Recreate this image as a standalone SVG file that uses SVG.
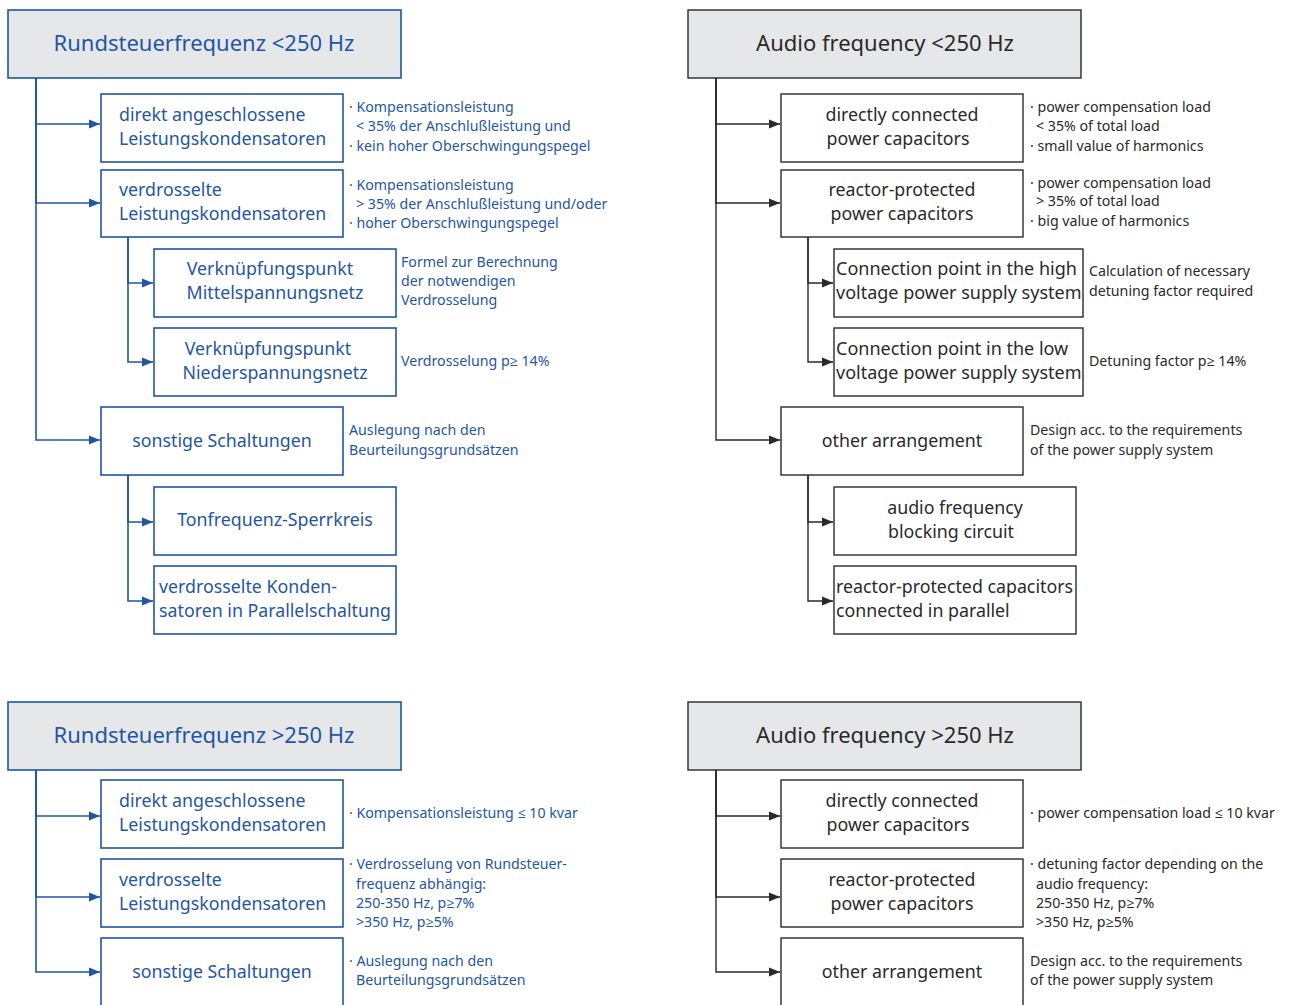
<svg xmlns="http://www.w3.org/2000/svg" width="1300" height="1005" viewBox="0 0 1300 1005">
<style>
text{font-family:"Noto Sans","Open Sans","DejaVu Sans",sans-serif;dominant-baseline:central}
.b rect{fill:#fff;stroke:#1f56a6;stroke-width:1.6}
.b rect.h{fill:#e6e7e9}
.k rect{fill:#fff;stroke:#2a2a2a;stroke-width:1.4}
.k rect.h{fill:#e6e7e9}
.b text{fill:#1f56a6}
.k text{fill:#2a2a2a}
.ht{font-size:22px;text-anchor:middle}
.t{font-size:17.8px}
.tc{font-size:17.8px;text-anchor:middle}
.t2{font-size:18px}
.a{font-size:14.2px}
.cb{fill:none;stroke:#1f56a6;stroke-width:1.6}
.ck{fill:none;stroke:#2a2a2a;stroke-width:1.4}
</style>
<defs>
<marker id="mb" markerUnits="userSpaceOnUse" markerWidth="12" markerHeight="10" refX="11" refY="5" orient="auto"><path d="M0,0.5 L11,5 L0,9.5 z" fill="#1f56a6"/></marker>
<marker id="mk" markerUnits="userSpaceOnUse" markerWidth="12" markerHeight="10" refX="11" refY="5" orient="auto"><path d="M0,0.5 L11,5 L0,9.5 z" fill="#2a2a2a"/></marker>
</defs>

<g id="connectors">
<g class="cb" marker-end="url(#mb)">
<path d="M36 78 V124 H100"/>
<path d="M36 78 V203 H100"/>
<path d="M36 78 V440 H100"/>
<path d="M128 237 V283 H153"/>
<path d="M128 237 V362 H153"/>
<path d="M128 475 V522 H153"/>
<path d="M128 475 V601 H153"/>
<path d="M36 770 V816 H100"/>
<path d="M36 770 V897 H100"/>
<path d="M36 770 V972 H100"/>
</g>
<g class="ck" marker-end="url(#mk)">
<path d="M716 78 V124 H780"/>
<path d="M716 78 V203 H780"/>
<path d="M716 78 V440 H780"/>
<path d="M808 237 V283 H833"/>
<path d="M808 237 V362 H833"/>
<path d="M808 475 V522 H833"/>
<path d="M808 475 V601 H833"/>
<path d="M716 770 V816 H780"/>
<path d="M716 770 V897 H780"/>
<path d="M716 770 V972 H780"/>
</g>
</g>

<!-- Top-left (German, <250 Hz) -->
<g class="b">
<g id="de1-head"><rect class="h" x="8" y="10" width="393" height="68"/><text class="ht" x="204" y="42">Rundsteuerfrequenz &lt;250 Hz</text></g>
<g id="de1-direkt"><rect x="101" y="94" width="242" height="68"/><text class="t" x="119" y="114">direkt angeschlossene</text><text class="t" x="119" y="138">Leistungskondensatoren</text>
<text class="a" x="349" y="106">· Kompensationsleistung</text><text class="a" x="356" y="125">&lt; 35% der Anschlußleistung und</text><text class="a" x="349" y="145">· kein hoher Oberschwingungspegel</text></g>
<g id="de1-verdr"><rect x="101" y="170" width="242" height="67"/><text class="t" x="119" y="189">verdrosselte</text><text class="t" x="119" y="213">Leistungskondensatoren</text>
<text class="a" x="349" y="184">· Kompensationsleistung</text><text class="a" x="356" y="203">&gt; 35% der Anschlußleistung und/oder</text><text class="a" x="349" y="222">· hoher Oberschwingungspegel</text></g>
<g id="de1-mittel"><rect x="154" y="249" width="242" height="68"/><text class="tc" x="270" y="268">Verknüpfungspunkt</text><text class="tc" x="275" y="292">Mittelspannungsnetz</text>
<text class="a" x="401" y="261">Formel zur Berechnung</text><text class="a" x="401" y="280">der notwendigen</text><text class="a" x="401" y="299">Verdrosselung</text></g>
<g id="de1-nieder"><rect x="154" y="328" width="242" height="68"/><text class="tc" x="268" y="348">Verknüpfungspunkt</text><text class="tc" x="275" y="372">Niederspannungsnetz</text>
<text class="a" x="401" y="360">Verdrosselung p≥ 14%</text></g>
<g id="de1-sonst"><rect x="101" y="407" width="242" height="68"/><text class="tc" x="222" y="440">sonstige Schaltungen</text>
<text class="a" x="349" y="429">Auslegung nach den</text><text class="a" x="349" y="449">Beurteilungsgrundsätzen</text></g>
<g id="de1-ton"><rect x="154" y="487" width="242" height="68"/><text class="tc" x="275" y="519">Tonfrequenz-Sperrkreis</text></g>
<g id="de1-par"><rect x="154" y="566" width="242" height="68"/><text class="t" x="159" y="586">verdrosselte Konden-</text><text class="t" x="159" y="610">satoren in Parallelschaltung</text></g>
</g>

<!-- Top-right (English, <250 Hz) -->
<g class="k">
<g id="en1-head"><rect class="h" x="688" y="10" width="393" height="68"/><text class="ht" x="885" y="42">Audio frequency &lt;250 Hz</text></g>
<g id="en1-direct"><rect x="781" y="94" width="242" height="68"/><text class="tc" x="902" y="114">directly connected</text><text class="tc" x="898" y="138">power capacitors</text>
<text class="a" x="1030" y="106">· power compensation load</text><text class="a" x="1036" y="125">&lt; 35% of total load</text><text class="a" x="1030" y="145">· small value of harmonics</text></g>
<g id="en1-reactor"><rect x="781" y="170" width="242" height="67"/><text class="tc" x="902" y="189">reactor-protected</text><text class="tc" x="902" y="213">power capacitors</text>
<text class="a" x="1030" y="182">· power compensation load</text><text class="a" x="1036" y="200">&gt; 35% of total load</text><text class="a" x="1030" y="220">· big value of harmonics</text></g>
<g id="en1-high"><rect x="834" y="249" width="249" height="68"/><text class="t2" x="836" y="268">Connection point in the high</text><text class="t2" x="836" y="292">voltage power supply system</text>
<text class="a" x="1089" y="270">Calculation of necessary</text><text class="a" x="1089" y="290">detuning factor required</text></g>
<g id="en1-low"><rect x="834" y="328" width="249" height="68"/><text class="t2" x="836" y="348">Connection point in the low</text><text class="t2" x="836" y="372">voltage power supply system</text>
<text class="a" x="1089" y="360">Detuning factor p≥ 14%</text></g>
<g id="en1-other"><rect x="781" y="407" width="242" height="68"/><text class="tc" x="902" y="440">other arrangement</text>
<text class="a" x="1030" y="429">Design acc. to the requirements</text><text class="a" x="1030" y="449">of the power supply system</text></g>
<g id="en1-audio"><rect x="834" y="487" width="242" height="68"/><text class="tc" x="955" y="507">audio frequency</text><text class="tc" x="951" y="531">blocking circuit</text></g>
<g id="en1-par"><rect x="834" y="566" width="242" height="68"/><text class="t" x="836" y="586">reactor-protected capacitors</text><text class="t" x="836" y="610">connected in parallel</text></g>
</g>

<!-- Bottom-left (German, >250 Hz) -->
<g class="b">
<g id="de2-head"><rect class="h" x="8" y="702" width="393" height="68"/><text class="ht" x="204" y="734">Rundsteuerfrequenz &gt;250 Hz</text></g>
<g id="de2-direkt"><rect x="101" y="780" width="242" height="68"/><text class="t" x="119" y="800">direkt angeschlossene</text><text class="t" x="119" y="824">Leistungskondensatoren</text>
<text class="a" x="349" y="812">· Kompensationsleistung ≤ 10 kvar</text></g>
<g id="de2-verdr"><rect x="101" y="859" width="242" height="68"/><text class="t" x="119" y="879">verdrosselte</text><text class="t" x="119" y="903">Leistungskondensatoren</text>
<text class="a" x="349" y="863">· Verdrosselung von Rundsteuer-</text><text class="a" x="356" y="883">frequenz abhängig:</text><text class="a" x="356" y="902">250-350 Hz, p≥7%</text><text class="a" x="356" y="921">&gt;350 Hz, p≥5%</text></g>
<g id="de2-sonst"><rect x="101" y="938" width="242" height="80"/><text class="tc" x="222" y="971">sonstige Schaltungen</text>
<text class="a" x="349" y="960">· Auslegung nach den</text><text class="a" x="356" y="979">Beurteilungsgrundsätzen</text></g>
</g>

<!-- Bottom-right (English, >250 Hz) -->
<g class="k">
<g id="en2-head"><rect class="h" x="688" y="702" width="393" height="68"/><text class="ht" x="885" y="734">Audio frequency &gt;250 Hz</text></g>
<g id="en2-direct"><rect x="781" y="780" width="242" height="68"/><text class="tc" x="902" y="800">directly connected</text><text class="tc" x="898" y="824">power capacitors</text>
<text class="a" x="1030" y="812">· power compensation load ≤ 10 kvar</text></g>
<g id="en2-reactor"><rect x="781" y="859" width="242" height="68"/><text class="tc" x="902" y="879">reactor-protected</text><text class="tc" x="902" y="903">power capacitors</text>
<text class="a" x="1030" y="863">· detuning factor depending on the</text><text class="a" x="1036" y="883">audio frequency:</text><text class="a" x="1036" y="902">250-350 Hz, p≥7%</text><text class="a" x="1036" y="921">&gt;350 Hz, p≥5%</text></g>
<g id="en2-other"><rect x="781" y="938" width="242" height="80"/><text class="tc" x="902" y="971">other arrangement</text>
<text class="a" x="1030" y="960">Design acc. to the requirements</text><text class="a" x="1030" y="979">of the power supply system</text></g>
</g>
</svg>
